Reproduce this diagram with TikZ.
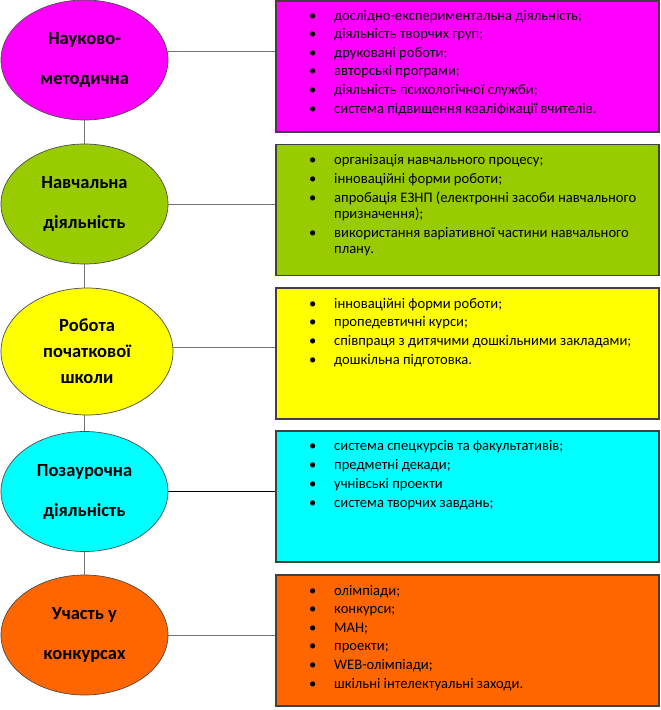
\documentclass[tikz,border=0pt]{standalone}
\usepackage{fontspec}
\setmainfont{Carlito}
\usetikzlibrary{shapes.geometric,calc}

\definecolor{naukcol}{HTML}{FF00FF}
\definecolor{navchcol}{HTML}{99CC00}
\definecolor{shkcol}{HTML}{FFFF00}
\definecolor{pozcol}{HTML}{00FFFF}
\definecolor{konkcol}{HTML}{FF6600}

\newcommand{\listentry}[1]{\makebox[25pt][l]{\textbullet}#1}

\begin{document}
\begin{tikzpicture}[x=1pt, y=-1pt,
    area/.style={ellipse, draw=black!70, line width=0.7pt, inner sep=0pt,
      minimum width=167pt, minimum height=120pt, align=center,
      font=\bfseries\fontsize{18.5}{40}\selectfont},
    listbox/.style={draw=black!75, line width=1.2pt, inner sep=0pt,
      minimum width=383pt, minimum height=131pt},
    entry/.style={anchor=base west, inner sep=0pt, font=\fontsize{14.6}{16}\selectfont},
    link/.style={draw=black!55, line width=0.9pt}]
    \useasboundingbox (0,0) rectangle (661,710);

    % areas of work
    \node[area, fill=naukcol] (nauk) at (84.5,60) {Науково-\\методична};
    \node[area, fill=navchcol] (navch) at (84.5,204) {Навчальна\\діяльність};
    \node[area, fill=shkcol, minimum width=172pt, minimum height=127pt,
      font=\bfseries\fontsize{18.5}{26}\selectfont] (shk) at (87,351.5) {Робота\\початкової\\школи};
    \node[area, fill=pozcol] (poz) at (84.5,491.5) {Позаурочна\\діяльність};
    \node[area, fill=konkcol] (konk) at (84.5,635) {Участь у\\конкурсах};

    % lists
    \node[listbox, fill=naukcol] (naukList) at (467.5,66.5) {};
    \node[listbox, fill=navchcol] (navchList) at (467.5,210) {};
    \node[listbox, fill=shkcol] (shkList) at (467.5,353.5) {};
    \node[listbox, fill=pozcol] (pozList) at (467.5,496.5) {};
    \node[listbox, fill=konkcol] (konkList) at (467.5,640.5) {};

    % connectors
    \draw[link] (nauk.south) -- (navch.north);
    \draw[link] (navch.south) -- (navch.south |- shk.north);
    \draw[link] (poz.north |- shk.south) -- (poz.north);
    \draw[link] (poz.south) -- (konk.north);
    \draw[link] (nauk.6) -- (nauk.6 -| naukList.west);
    \draw[link] (navch.east) -- (navch.east -| navchList.west);
    \draw[link] (shk.3) -- (shk.3 -| shkList.west);
    \draw[link, draw=black] (poz.east) -- (poz.east -| pozList.west);
    \draw[link] (konk.east) -- (konk.east -| konkList.west);

    % list entries
    \foreach \t [count=\i] in {дослідно-експериментальна діяльність;, діяльність творчих груп;,
        друковані роботи;, авторські програми;, діяльність психологічної служби;,
        система підвищення кваліфікації вчителів.}
      \node[entry] (naukItem\i) at (309,{20+(\i-1)*18.6}) {\listentry{\t}};

    \node[entry] (navchItem1) at (309,164) {\listentry{організація навчального процесу;}};
    \node[entry] (navchItem2) at (309,183) {\listentry{інноваційні форми роботи;}};
    \node[entry] (navchItem3) at (309,202) {\listentry{апробація ЕЗНП (електронні засоби навчального}};
    \node[entry] (navchItem3b) at (334,218) {призначення);};
    \node[entry] (navchItem4) at (309,237) {\listentry{використання варіативної частини навчального}};
    \node[entry] (navchItem4b) at (334,253) {плану.};

    \foreach \t [count=\i] in {інноваційні форми роботи;, пропедевтичні курси;,
        співпраця з дитячими дошкільними закладами;, дошкільна підготовка.}
      \node[entry] (shkItem\i) at (309,{308+(\i-1)*18.8}) {\listentry{\t}};

    \foreach \t [count=\i] in {система спецкурсів та факультативів;, предметні декади;,
        учнівські проекти, система творчих завдань;}
      \node[entry] (pozItem\i) at (309,{450+(\i-1)*19.2}) {\listentry{\t}};

    \foreach \t [count=\i] in {олімпіади;, конкурси;, МАН;, проекти;, WEB-олімпіади;,
        шкільні інтелектуальні заходи.}
      \node[entry] (konkItem\i) at (309,{595+(\i-1)*18.6}) {\listentry{\t}};
\end{tikzpicture}
\end{document}
